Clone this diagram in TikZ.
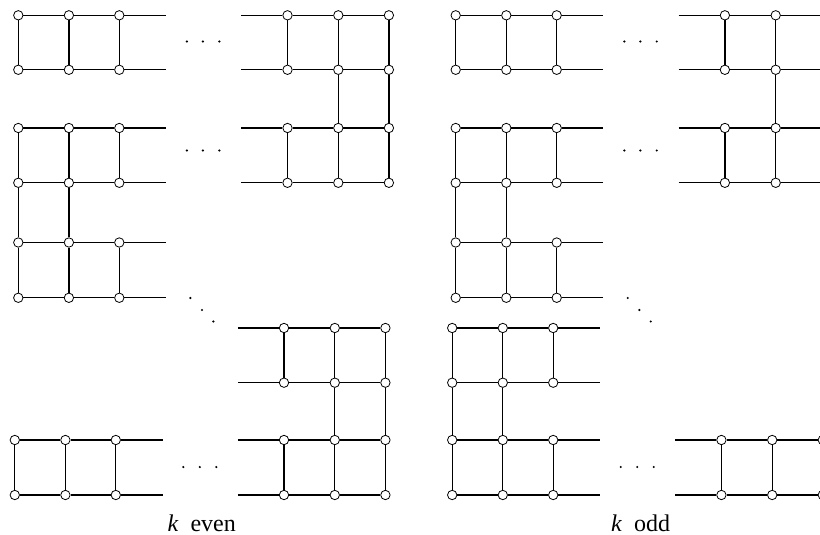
\documentclass[tikz,border=0pt]{standalone}
\usepackage{fontspec}
\setmainfont{Liberation Serif}
\begin{document}
\begin{tikzpicture}[x=1pt,y=-1pt,
 vtx/.style={draw,circle,fill=white,inner sep=0pt,minimum size=9.4pt,line width=0.8pt},
 rung/.style={line width=1.3pt},
 lbl/.style={anchor=base,font=\fontsize{24}{28}\selectfont}]
\useasboundingbox (0,0) rectangle (820,535);
\clip (0,0) rectangle (820,535);

% upper half of both panels
\foreach \p/\ox in {e/18.3,o/455.7}{
  \foreach \r/\y in {1/15.3,2/69.8,3/128,4/182.8,5/242.5,6/297.8}{
    \foreach \c/\dx in {1/0,2/50.6,3/101}
      \node[vtx] (\p L\r\c) at (\ox+\dx,\y) {};
    \coordinate (\p Ls\r) at (\ox+147.5,\y);
  }
  \foreach \r/\y in {1/15.3,2/69.8,3/128,4/182.8}{
    \foreach \c/\dx in {1/269.2,2/320,3/370.6}
      \node[vtx] (\p R\r\c) at (\ox+\dx,\y) {};
    \coordinate (\p Rs\r) at (\ox+223,\y);
  }
  \foreach \r in {1,...,6}
    \draw[rung] (\p L\r1) -- (\p L\r2) -- (\p L\r3) -- (\p Ls\r);
  \foreach \r in {1,...,4}
    \draw[rung] (\p Rs\r) -- (\p R\r1) -- (\p R\r2) -- (\p R\r3);
  \foreach \a/\b/\c in {1/2/1,1/2/2,1/2/3,3/4/1,3/4/2,3/4/3,4/5/1,4/5/2,5/6/1,5/6/2,5/6/3}
    \draw[rung] (\p L\a\c) -- (\p L\b\c);
  \foreach \a/\b/\c in {1/2/1,1/2/2,1/2/3,2/3/2,2/3/3,3/4/1,3/4/2,3/4/3}
    \draw[rung] (\p R\a\c) -- (\p R\b\c);
  % dots
  \foreach \dx in {168.6,184.6,201}{
    \fill (\ox+\dx,41.5) circle (1.2pt);
    \fill (\ox+\dx,150.5) circle (1.2pt);
  }
  \foreach \dx/\y in {172/298,183.7/310,195/321.5}
    \fill (\ox+\dx,\y) circle (1.2pt);
}

% lower half, k even
\foreach \r/\y in {3/440,4/495}{
  \foreach \c/\dx in {1/0,2/50.6,3/101}
    \node[vtx] (eB\r\c) at (14.8+\dx,\y) {};
  \coordinate (eBs\r) at (14.8+148.5,\y);
}
\foreach \r/\y in {1/328,2/382.7,3/440,4/495}{
  \foreach \c/\dx in {1/269.2,2/320,3/370.6}
    \node[vtx] (eD\r\c) at (14.8+\dx,\y) {};
  \coordinate (eDs\r) at (14.8+223,\y);
}
\foreach \r in {3,4}
  \draw[rung] (eB\r1) -- (eB\r2) -- (eB\r3) -- (eBs\r);
\foreach \r in {1,...,4}
  \draw[rung] (eDs\r) -- (eD\r1) -- (eD\r2) -- (eD\r3);
\foreach \c in {1,2,3}
  \draw[rung] (eB3\c) -- (eB4\c);
\foreach \a/\b/\c in {1/2/1,1/2/2,1/2/3,2/3/2,2/3/3,3/4/1,3/4/2,3/4/3}
  \draw[rung] (eD\a\c) -- (eD\b\c);
\foreach \dx in {168.5,185,201.5}
  \fill (14.8+\dx,467) circle (1.2pt);

% lower half, k odd
\foreach \r/\y in {1/328,2/382.7,3/440,4/495}{
  \foreach \c/\dx in {1/0,2/50.6,3/101}
    \node[vtx] (oB\r\c) at (452.2+\dx,\y) {};
  \coordinate (oBs\r) at (452.2+148,\y);
}
\foreach \r/\y in {3/440,4/495}{
  \foreach \c/\dx in {1/269.2,2/320,3/370.6}
    \node[vtx] (oD\r\c) at (452.2+\dx,\y) {};
  \coordinate (oDs\r) at (452.2+223,\y);
}
\foreach \r in {1,...,4}
  \draw[rung] (oB\r1) -- (oB\r2) -- (oB\r3) -- (oBs\r);
\foreach \r in {3,4}
  \draw[rung] (oDs\r) -- (oD\r1) -- (oD\r2) -- (oD\r3);
\foreach \a/\b/\c in {1/2/1,1/2/2,1/2/3,2/3/1,2/3/2,3/4/1,3/4/2,3/4/3}
  \draw[rung] (oB\a\c) -- (oB\b\c);
\foreach \c in {1,2,3}
  \draw[rung] (oD3\c) -- (oD4\c);
\foreach \dx in {168.5,185,201.5}
  \fill (452.2+\dx,467) circle (1.2pt);

\node[lbl] (even) at (201.7,531) {\textit{k}\enspace even};
\node[lbl] (odd) at (640.5,531) {\textit{k}\enspace odd};
\end{tikzpicture}
\end{document}
